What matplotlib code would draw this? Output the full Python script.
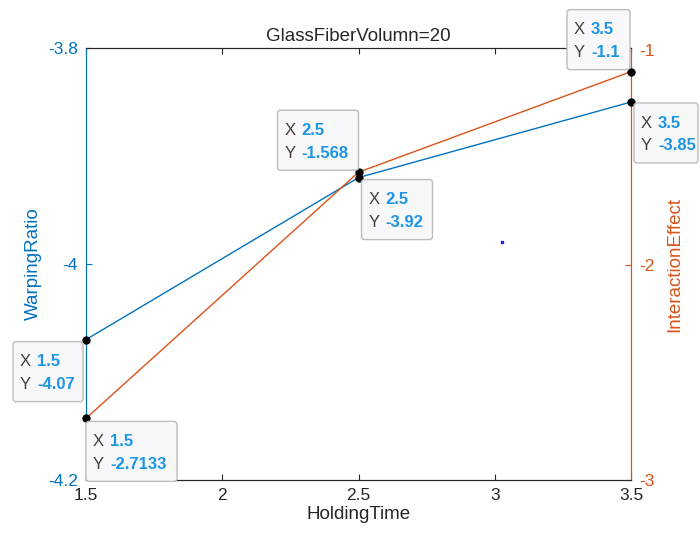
import matplotlib.pyplot as plt
from matplotlib import transforms
from matplotlib.patches import FancyBboxPatch

plt.rcParams["font.family"] = ["Liberation Sans", "DejaVu Sans"]

# data
holding_time = [1.5, 2.5, 3.5]
warping_ratio = [-4.07, -3.92, -3.85]
interaction_effect = [-2.7133, -1.568, -1.1]
x_ticks = [1.5, 2, 2.5, 3, 3.5]
left_ticks = [-4.2, -4, -3.8]
right_ticks = [-3, -2, -1]
stray_point = (3.027, -3.98)

BLUE = "#0072BD"
ORANGE = "#D95319"
DARK = "#262626"
TIP_BLUE = "#1C96E4"

# datatip box layout in pixels relative to the point: (left, top, width), image y downward
left_tips = [(-73, 2, 70), (3, 2, 71), (3, 1, 64)]
right_tips = [(0, 3, 91), (-81, -62, 81), (-64, -62, 63)]
TIP_H = 60

fig = plt.figure(figsize=(7, 5.39), dpi=100)
ax = fig.add_axes([86 / 700, 1 - 480 / 539, 545 / 700, 432 / 539])
ax2 = ax.twinx()

ax.plot(holding_time, warping_ratio, color=BLUE, lw=1.0)
ax.plot([stray_point[0]], [stray_point[1]], "s", color="#2020E0", ms=1.5)
ax2.plot(holding_time, interaction_effect, color=ORANGE, lw=1.0)

ax.set_xlim(1.5, 3.5)
ax.set_ylim(-4.2, -3.8)
ax2.set_ylim(-3, -0.99)
ax.set_xticks(x_ticks)
ax.set_xticklabels([f"{v:g}" for v in x_ticks])
ax.set_yticks(left_ticks)
ax.set_yticklabels([f"{v:g}" for v in left_ticks])
ax2.set_yticks(right_ticks)
ax2.set_yticklabels([f"{v:g}" for v in right_ticks])

ax.tick_params(axis="x", direction="in", top=True, colors=DARK, labelsize=12.5, length=4, pad=6)
ax.tick_params(axis="y", direction="in", colors=BLUE, labelsize=12.5, length=4, pad=6)
ax2.tick_params(axis="y", direction="in", colors=ORANGE, labelsize=12.5, length=4, pad=6)
for a in (ax, ax2):
    a.spines["top"].set_color(DARK)
    a.spines["bottom"].set_color(DARK)
    a.spines["left"].set_color(BLUE)
    a.spines["right"].set_color(ORANGE)
    for s in a.spines.values():
        s.set_linewidth(0.8)

ax.set_xlabel("HoldingTime", fontsize=13.5, color=DARK, labelpad=2)
ax.set_ylabel("WarpingRatio", fontsize=13.5, color=BLUE, labelpad=4)
ax2.set_ylabel("InteractionEffect", fontsize=13.5, color=ORANGE, labelpad=8)
ax.set_title("GlassFiberVolumn=20", fontsize=13.5, color=DARK, pad=5)


def datatip(src_ax, x, y, layout):
    left, top, width = layout
    trans = fig.dpi_scale_trans + transforms.ScaledTranslation(x, y, src_ax.transData)
    ax2.plot([x], [y], "o", color="black", ms=5, transform=src_ax.transData,
             zorder=6, clip_on=False)
    box = FancyBboxPatch((left / 100, -(top + TIP_H) / 100), width / 100, TIP_H / 100,
                         boxstyle="round,pad=0,rounding_size=0.03",
                         transform=trans, facecolor="#F8F8FA", edgecolor="#BDBDBD",
                         lw=1.0, zorder=7, clip_on=False)
    ax2.add_patch(box)
    for i, (lab, val) in enumerate([("X", f"{x:g}"), ("Y", f"{y:g}")]):
        ty = -(top + 20 + i * 23) / 100
        ax2.text((left + 7) / 100, ty, lab, transform=trans, fontsize=12,
                 color="#404040", va="center", ha="left", zorder=8, clip_on=False)
        ax2.text((left + 24) / 100, ty, val, transform=trans, fontsize=12,
                 color=TIP_BLUE, fontweight="bold", va="center", ha="left",
                 zorder=8, clip_on=False)


for xv, yv, lay in zip(holding_time, warping_ratio, left_tips):
    datatip(ax, xv, yv, lay)
for xv, yv, lay in zip(holding_time, interaction_effect, right_tips):
    datatip(ax2, xv, yv, lay)

fig.savefig("out.png", dpi=100)
